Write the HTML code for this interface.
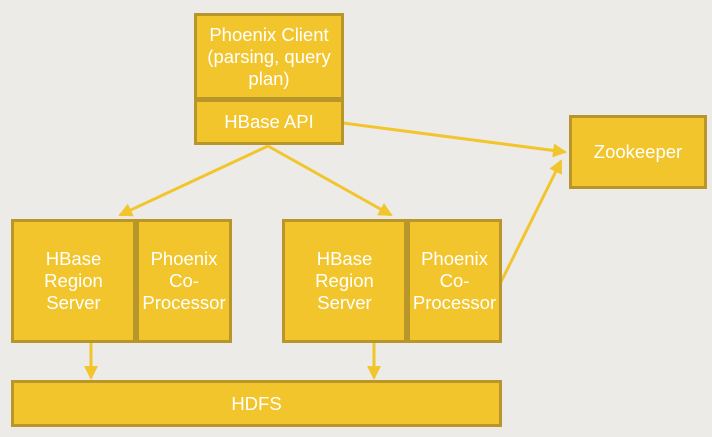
<!DOCTYPE html>
<html><head><style>
body{margin:0;width:712px;height:437px;background:#EDEBE8;position:relative;overflow:hidden;font-family:"Liberation Sans",sans-serif;}
.b{position:absolute;box-sizing:border-box;background:#F2C52C;border:3px solid #B9962A;color:#fff;font-size:18.5px;line-height:22px;display:flex;align-items:center;justify-content:center;text-align:center;}
svg{position:absolute;left:0;top:0}
</style></head><body>
<svg width="712" height="437">
<defs><marker id="a" markerWidth="20" markerHeight="20" refX="12" refY="7" orient="auto" markerUnits="userSpaceOnUse"><path d="M0,0 L14,7 L0,14 z" fill="#F2C52C"/></marker></defs>
<g stroke="#F2C52C" stroke-width="3" fill="none" marker-end="url(#a)">
<line x1="268" y1="146" x2="120" y2="215"/>
<line x1="268" y1="146" x2="391" y2="215"/>
<line x1="343" y1="123" x2="565" y2="152"/>
<line x1="501" y1="282" x2="561" y2="161"/>
<line x1="91" y1="343" x2="91" y2="378"/>
<line x1="374" y1="343" x2="374" y2="378"/>
</g>
</svg>
<div class="b" style="left:194px;top:13px;width:150px;height:87px">Phoenix Client<br>(parsing, query<br>plan)</div>
<div class="b" style="left:194px;top:99px;width:150px;height:46px">HBase API</div>
<div class="b" style="left:569px;top:115px;width:138px;height:74px">Zookeeper</div>
<div class="b" style="left:11px;top:219px;width:125px;height:124px">HBase<br>Region<br>Server</div>
<div class="b" style="left:136px;top:219px;width:96px;height:124px">Phoenix<br>Co-<br>Processor</div>
<div class="b" style="left:282px;top:219px;width:125px;height:124px">HBase<br>Region<br>Server</div>
<div class="b" style="left:407px;top:219px;width:95px;height:124px">Phoenix<br>Co-<br>Processor</div>
<div class="b" style="left:11px;top:380px;width:491px;height:47px">HDFS</div>
</body></html>
